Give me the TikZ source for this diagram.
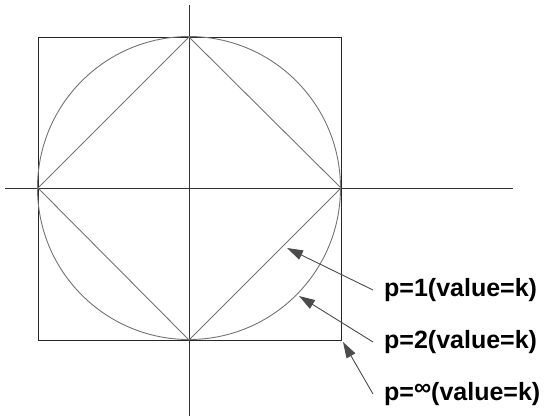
\documentclass[tikz,border=0pt]{standalone}
\usepackage{fontspec}
\setmainfont{Liberation Sans}
\usetikzlibrary{arrows.meta, positioning}
\tikzset{
  frame/.style={draw=black!85, line width=0.9pt},
  axis/.style={draw=black!80, line width=0.9pt},
  curve/.style={draw=black!55, line width=0.9pt},
  lbl/.style={font=\fontsize{25}{29}\selectfont\bfseries, inner xsep=11pt,
              inner ysep=2pt, anchor=west},
  ptr/.style={-{Triangle[length=16pt, width=10pt]}, draw=black!70, line width=0.9pt}
}
\newcommand{\pinf}{\raisebox{0.35ex}{\fontsize{24}{24}\selectfont ∞}}
\begin{document}
\begin{tikzpicture}[x=1pt, y=-1pt]
  \useasboundingbox (0,0) rectangle (553,416);
  % axes
  \draw[axis] (5,188) -- (513,188);
  \draw[axis] (189,5) -- (189,416);
  % unit balls
  \draw[frame] (38,37) rectangle (341,340);
  \draw[curve] (189,188) circle[radius=151.5pt];
  \draw[curve] (189,37) -- (341,188) -- (189,340) -- (38,188) -- cycle;
  \coordinate (t1) at (287,248);
  \coordinate (t2) at (299,296);
  \coordinate (t3) at (343,342);
  \node[lbl] (l1) at (373,290) {p=1(value=k)};
  \node[lbl] (l2) at (373,342) {p=2(value=k)};
  \node[lbl] (l3) at (373,394) {p=\pinf(value=k)};
  \draw[ptr] (l1.west) -- (t1);
  \draw[ptr] (l2.west) -- (t2);
  \draw[ptr] (l3.west) -- (t3);
\end{tikzpicture}
\end{document}
